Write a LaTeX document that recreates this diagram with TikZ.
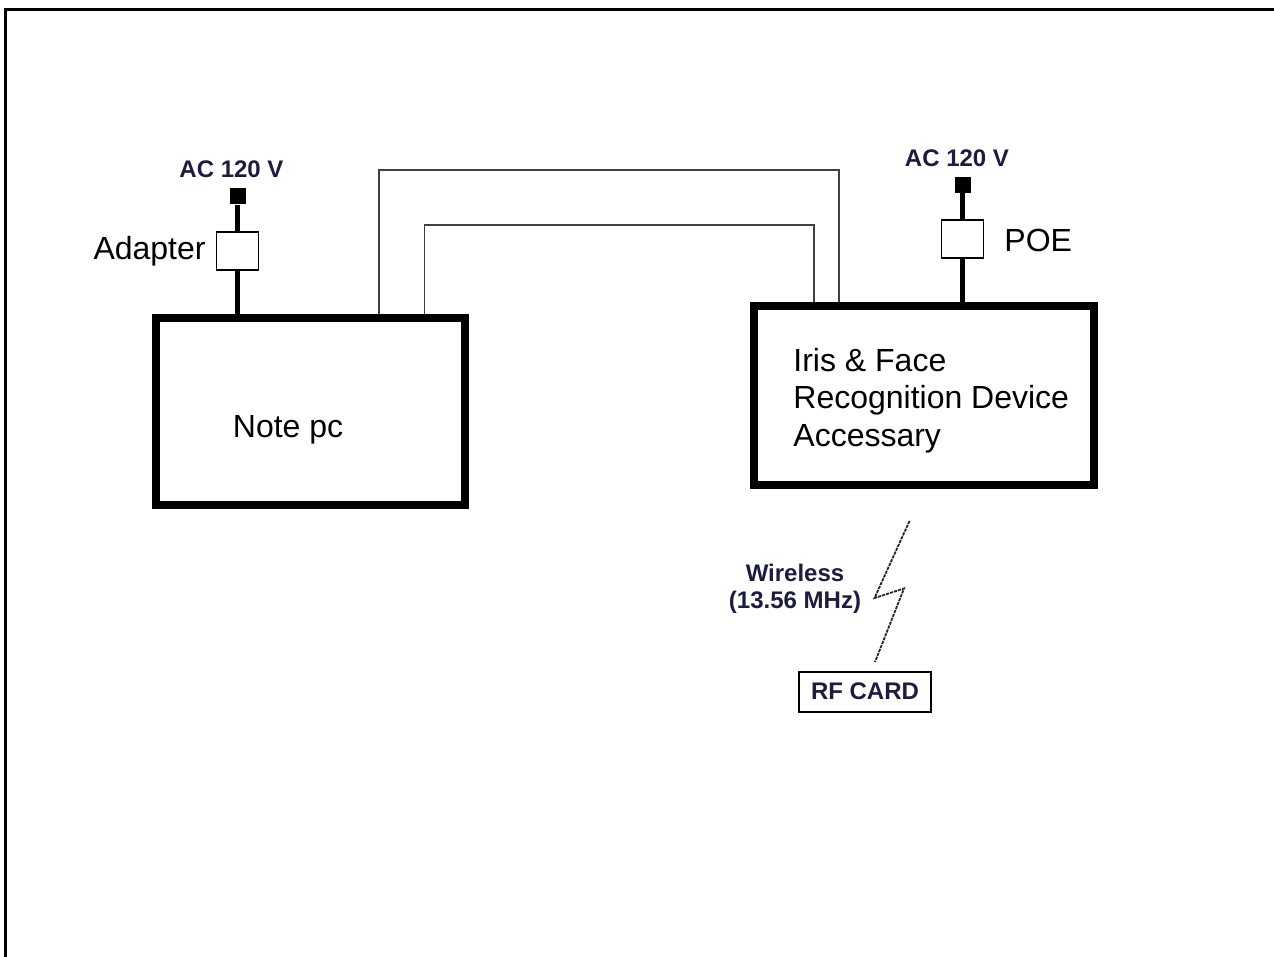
\documentclass[tikz,border=0pt]{standalone}
\usepackage{fontspec}
\setmainfont{Liberation Sans}
\usepackage{tikz}
\usetikzlibrary{positioning}
\definecolor{LabelInk}{RGB}{28,28,62}
\tikzset{every path/.style={line join=miter}}

\begin{document}
\begin{tikzpicture}[
    x=0.5pt, y=-0.5pt,
    unit/.style={
        draw=black,
        line width=4pt,
        inner sep=0pt
    },
    plugbox/.style={draw=black, line width=0.7pt, fill=white, minimum width=21pt, minimum height=19pt, inner sep=0pt},
    socket/.style={fill=black, minimum size=8pt, inner sep=0pt},
    bigtext/.style={font=\fontsize{16}{18.75}\selectfont, inner sep=0pt},
    smalltext/.style={font=\fontsize{12}{13.5}\selectfont\bfseries, text=LabelInk, inner sep=0pt},
    power/.style={line width=2.3pt},
    cable/.style={draw=black!75, line width=0.75pt},
    radio/.style={draw=black!85, line width=0.9pt, dash pattern=on 1.6pt off 0.5pt}
]

\useasboundingbox (0,0) rectangle (1274,957);
\draw[line width=1.8pt] (5.5,957) -- (5.5,9.5) -- (1274,9.5);

\node[unit, minimum width=154.5pt, minimum height=93.5pt] (notepc) at (310.5,411.5) {};
\node[unit, minimum width=170pt, minimum height=89.5pt] (device) at (924,395.5) {};

\node[bigtext, anchor=base west] (pclabel) at (232.5,437.5) {Note pc};
\node[bigtext, align=left, anchor=north west] (devlabel) at (793,347.5)
{Iris \& Face\\Recognition Device\\Accessary};

% left supply
\node[socket] (acleft) at (237.5,196.5) {};
\node[plugbox] (adapter) at (237.5,251) {};
\node[smalltext, anchor=base] (acleftlabel) at (231.5,178) {AC 120 V};
\node[bigtext, anchor=base east] (adapterlabel) at (206,260) {Adapter};
\draw[power] (acleft.south) -- (adapter.north);
\draw[power] (adapter.south) -- (adapter.south |- notepc.north);

% right supply
\node[socket] (acright) at (962.5,185) {};
\node[plugbox] (poe) at (962.5,239) {};
\node[smalltext, anchor=base] (acrightlabel) at (957,166.5) {AC 120 V};
\node[bigtext, anchor=base west] (poelabel) at (1004,252) {POE};
\draw[power] (acright.south) -- (poe.north);
\draw[power] (poe.south) -- (poe.south |- device.north);

% cables
\coordinate (lanOuterL) at (379,170);
\coordinate (lanOuterR) at (839,170);
\coordinate (lanInnerL) at (424.5,225);
\coordinate (lanInnerR) at (814,225);
\draw[cable] (lanOuterL |- notepc.north) -- (lanOuterL) -- (lanOuterR) -- (lanOuterR |- device.north);
\draw[cable] (lanInnerL |- notepc.north) -- (lanInnerL) -- (lanInnerR) -- (lanInnerR |- device.north);

% wireless link
\coordinate (boltTop) at (909.5,521);
\coordinate (boltBot) at (875,662);
\draw[radio] (boltTop) -- (874.5,598) -- (904,588.5) -- (boltBot);
\node[smalltext, align=center, anchor=north] (wirelesslabel) at (795,564) {Wireless\\(13.56 MHz)};

\node[smalltext, draw=black, line width=0.9pt, minimum width=66pt, minimum height=20pt] (rfcard) at (865,691.7) {RF CARD};

\end{tikzpicture}
\end{document}
